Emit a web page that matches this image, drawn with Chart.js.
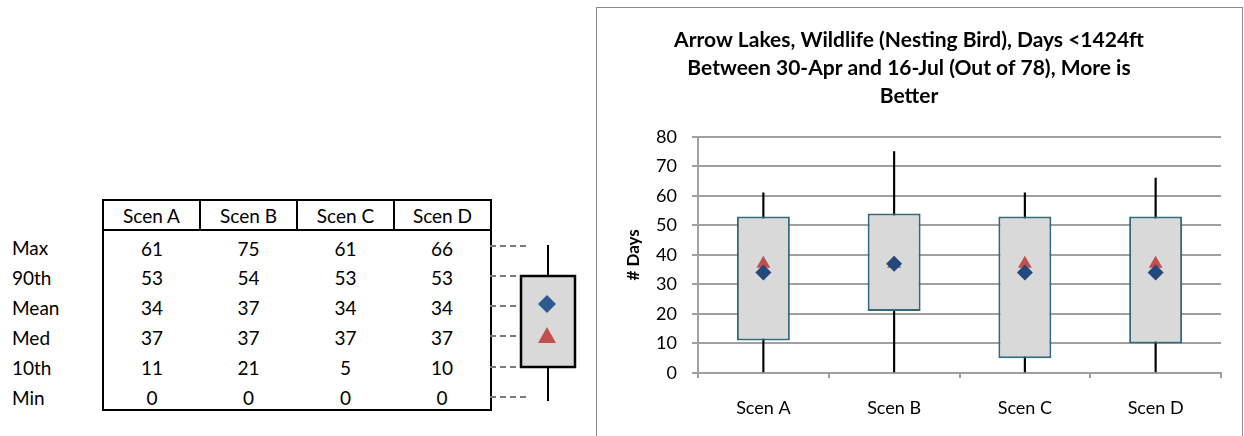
<!DOCTYPE html>
<html>
<head>
<meta charset="utf-8">
<script src="https://cdn.jsdelivr.net/npm/chart.js@4.4.0/dist/chart.umd.min.js"></script>
<style>
body{margin:0;background:#fff;width:1244px;height:436px;overflow:hidden;position:relative;font-family:Lato,"Liberation Sans",sans-serif;color:#000;}
#stats{position:absolute;left:0;top:199px;border-collapse:collapse;font-size:19px;}
#stats th{border:2px solid #000;width:97px;height:30px;font-weight:normal;text-align:center;padding:0;box-sizing:border-box;}
#stats th.lab{border:none;width:103px;}
#stats td{height:30px;padding:7px 0 0 0;line-height:22px;text-align:center;box-sizing:border-box;vertical-align:top;}
#stats td.lab{text-align:left;padding-left:12px;}
#stats td.first{border-left:2px solid #000;}
#stats td.last{border-right:2px solid #000;}
#stats tr.bottom td.val{border-bottom:2px solid #000;}
#glyph{position:absolute;left:480px;top:230px;}
#frame{position:absolute;left:596px;top:7px;width:645px;height:440px;border:1px solid #8c8c8c;}
#frame canvas{display:block;}
</style>
</head>
<body>
<table id="stats"><thead><tr id="headRow"><th class="lab"></th></tr></thead><tbody id="statBody"></tbody></table>
<canvas id="glyph" width="115" height="180"></canvas>
<div id="frame"><canvas id="chart1" width="645" height="428"></canvas></div>
<script>
var scenarios = ['Scen A', 'Scen B', 'Scen C', 'Scen D'];
var maxDays  = [61, 75, 61, 66];
var p90Days  = [53, 54, 53, 53];
var meanDays = [34, 37, 34, 34];
var medDays  = [37, 37, 37, 37];
var p10Days  = [11, 21, 5, 10];
var minDays  = [0, 0, 0, 0];
var statLabels = ['Max', '90th', 'Mean', 'Med', '10th', 'Min'];
var yMin = 0, yMax = 80, yStep = 10;

var titleLines = ['Arrow Lakes, Wildlife (Nesting Bird), Days <1424ft',
                  'Between 30-Apr and 16-Jul (Out of 78), More is',
                  'Better'];

var FONT = 'Lato, "Liberation Sans", sans-serif';

//////// table on the left
function buildTable(){
	var head = document.getElementById('headRow');
	scenarios.forEach(function(s){
		var th = document.createElement('th');
		th.textContent = s;
		head.appendChild(th);
	});
	var rows = [maxDays, p90Days, meanDays, medDays, p10Days, minDays];
	var body = document.getElementById('statBody');
	rows.forEach(function(r, i){
		var tr = document.createElement('tr');
		if (i == rows.length - 1) tr.className = 'bottom';
		var td = document.createElement('td');
		td.className = 'lab';
		td.textContent = statLabels[i];
		tr.appendChild(td);
		r.forEach(function(v, j){
			var c = document.createElement('td');
			c.className = 'val' + (j == 0 ? ' first' : '') + (j == r.length - 1 ? ' last' : '');
			c.textContent = v;
			tr.appendChild(c);
		});
		body.appendChild(tr);
	});
}

//////// little box glyph explaining the table rows
function drawGlyph(){
	var ctx = document.getElementById('glyph').getContext('2d');
	var ox = 480, oy = 230;
	// row heights of the table
	var rowY = [246, 276, 306, 336, 367, 397];
	var dashEnd = [528, 521, 526, 524, 521, 527];
	ctx.strokeStyle = '#7a7a7a';
	ctx.lineWidth = 2;
	ctx.setLineDash([6, 4]);
	rowY.forEach(function(y, i){
		ctx.beginPath();
		ctx.moveTo(490 - ox, y - oy);
		ctx.lineTo(dashEnd[i] - ox, y - oy);
		ctx.stroke();
	});
	ctx.setLineDash([]);
	// whiskers
	ctx.strokeStyle = '#000';
	ctx.lineWidth = 2;
	ctx.beginPath();
	ctx.moveTo(548 - ox, 245 - oy); ctx.lineTo(548 - ox, 276 - oy);
	ctx.moveTo(548 - ox, 367 - oy); ctx.lineTo(548 - ox, 401 - oy);
	ctx.stroke();
	// box
	ctx.fillStyle = '#d9d9d9';
	ctx.fillRect(521 - ox, 276 - oy, 54, 91);
	ctx.lineWidth = 2.5;
	ctx.strokeRect(521 - ox, 276 - oy, 54, 91);
	// diamond (mean)
	ctx.fillStyle = '#2c5a93';
	ctx.beginPath();
	ctx.moveTo(547 - ox, 295 - oy); ctx.lineTo(556 - ox, 304 - oy);
	ctx.lineTo(547 - ox, 313 - oy); ctx.lineTo(538 - ox, 304 - oy);
	ctx.closePath(); ctx.fill();
	// triangle (median)
	ctx.fillStyle = '#c0504d';
	ctx.beginPath();
	ctx.moveTo(547 - ox, 327 - oy); ctx.lineTo(556 - ox, 343 - oy);
	ctx.lineTo(538 - ox, 343 - oy);
	ctx.closePath(); ctx.fill();
}

//////// main chart
function drawChart(){
	var ctx = document.getElementById('chart1');
	var whisk = scenarios.map(function(s, i){ return [minDays[i], maxDays[i]]; });
	var boxes = scenarios.map(function(s, i){ return [p10Days[i], p90Days[i]]; });

	new Chart(ctx, {
		type: 'bar',
		data: {
			labels: scenarios,
			datasets: [
				{ label: 'Min-Max', data: whisk, backgroundColor: '#000', barThickness: 1.5,
				  grouped: false, order: 4 },
				{ label: '10th-90th', data: boxes, backgroundColor: '#d9d9d9', borderColor: '#336a7a',
				  borderWidth: 2, borderSkipped: false, grouped: false, order: 3,
				  categoryPercentage: 1, barPercentage: 0.405 },
				{ type: 'line', label: 'Median', data: medDays, showLine: false, pointStyle: 'triangle',
				  pointRadius: 8, backgroundColor: '#c0504d', borderColor: '#c0504d', borderWidth: 0, order: 2 },
				{ type: 'line', label: 'Mean', data: meanDays, showLine: false, pointStyle: 'rectRot',
				  pointRadius: 8, backgroundColor: '#23487c', borderColor: '#23487c', borderWidth: 0, order: 1 }
			]
		},
		options: {
			responsive: false,
			animation: false,
			layout: { padding: { left: 0, right: 21, top: 0, bottom: 0 } },
			plugins: {
				legend: { display: false },
				tooltip: { enabled: false },
				title: {
					display: true,
					text: titleLines,
					color: '#000',
					font: { family: FONT, size: 21, weight: 'bold', lineHeight: 1.33 },
					padding: { top: 18, bottom: 27 }
				}
			},
			scales: {
				x: {
					grid: { drawOnChartArea: false, drawTicks: true, tickLength: 5, color: '#a0a0a0', lineWidth: 2 },
					border: { color: '#a0a0a0', width: 2 },
					ticks: { color: '#000', font: { family: FONT, size: 18 }, padding: 19 },
					afterFit: function(scale){ scale.height = 63; }
				},
				y: {
					min: yMin, max: yMax,
					grid: { color: '#a0a0a0', lineWidth: 2, tickLength: 6 },
					border: { color: '#a0a0a0', width: 2 },
					ticks: { stepSize: yStep, color: '#000', font: { family: FONT, size: 18 }, padding: 15 },
					title: { display: true, text: '# Days', color: '#000',
					         font: { family: FONT, size: 17, weight: 'bold' }, padding: { top: 26 } },
					afterFit: function(scale){ scale.width = 101; }
				}
			}
		}
	});
}

buildTable();
drawGlyph();
drawChart();
</script>
</body>
</html>
